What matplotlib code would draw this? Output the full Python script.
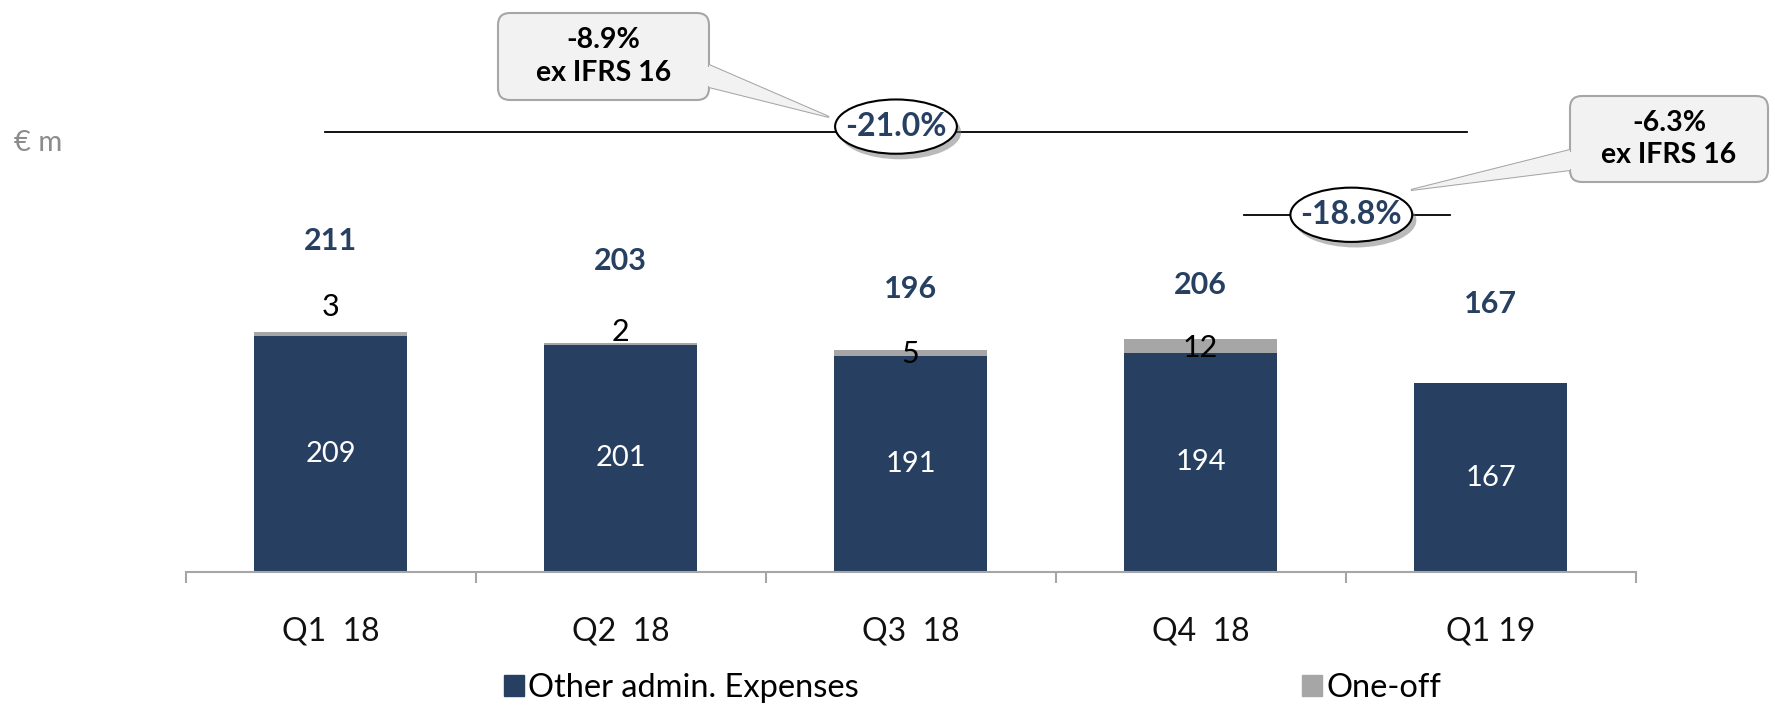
import matplotlib
matplotlib.use('Agg')
import matplotlib.pyplot as plt
from matplotlib.patches import Ellipse, FancyBboxPatch, Polygon, Patch
import matplotlib.patheffects as pe

plt.rcParams['font.family'] = ['Lato', 'DejaVu Sans']

# data
quarters = ['Q1  18', 'Q2  18', 'Q3  18', 'Q4  18', 'Q1 19']
other_admin = [209, 201, 191, 194, 167]
one_off = [3, 2, 5, 12, 0]
totals = [211, 203, 196, 206, 167]
growth_labels = ['-21.0%', '-18.8%']
callout_labels = ['-8.9%\nex IFRS 16', '-6.3%\nex IFRS 16']

# colours
NAVY = '#274062'
GREY = '#A6A6A6'
AXIS = '#A6A6A6'

# label heights (value units)
total_y = [293, 275, 250, 254, 237]
oneoff_y = [234, 212, 193, 198, 0]

W, H = 1775, 706
fig = plt.figure(figsize=(W / 100, H / 100), dpi=100)
ax = fig.add_axes([185.5 / W, 134 / H, 1450 / W, 572 / H])
ax.set_xlim(-0.5, 4.5)
ax.set_ylim(0, 506)

x = range(len(quarters))
ax.bar(x, other_admin, width=0.527, color=NAVY, zorder=2)
ax.bar(x, one_off, width=0.527, bottom=other_admin, color=GREY, zorder=2)

for i in x:
    ax.text(i, other_admin[i] / 2, str(other_admin[i]), color='white',
            fontsize=21, ha='center', va='center', zorder=3)
    if one_off[i]:
        ax.text(i, oneoff_y[i], str(one_off[i]), color='black',
                fontsize=22, ha='center', va='center', zorder=3)
    ax.text(i, total_y[i], str(totals[i]), color=NAVY, fontsize=22,
            fontweight='bold', ha='center', va='center', zorder=3)

# axis styling
for s in ['top', 'right', 'left']:
    ax.spines[s].set_visible(False)
ax.spines['bottom'].set_color(AXIS)
ax.spines['bottom'].set_linewidth(1.5)
ax.set_yticks([])
ax.set_xticks([i - 0.5 for i in range(len(quarters) + 1)])
ax.set_xticklabels([])
ax.tick_params(axis='x', which='major', length=8, width=1.5, color=AXIS)
ax.set_xticks(list(x), minor=True)
ax.set_xticklabels(quarters, minor=True, fontsize=23, color='#111111')
ax.tick_params(axis='x', which='minor', length=0, pad=32)

# growth brackets
shadow = [pe.SimplePatchShadow(offset=(3, -4), shadow_rgbFace='#777777', alpha=0.5), pe.Normal()]
brackets = [(-0.02, 3.92, 389, 1.95, 394), (3.15, 3.86, 316, 3.52, 316)]
for (x0, x1, yl, xe, ye), lab in zip(brackets, growth_labels):
    ax.plot([x0, x1], [yl, yl], color='black', lw=1.3, zorder=4, clip_on=False)
    e = Ellipse((xe, ye), 0.42, 48, facecolor='white', edgecolor='black',
                lw=1.5, zorder=5, clip_on=False)
    e.set_path_effects(shadow)
    ax.add_patch(e)
    ax.text(xe, ye, lab, color=NAVY, fontsize=23, fontweight='bold',
            ha='center', va='center', zorder=6)

ax.text(-0.5 - 172 / 290, (572 - 143) / 1.13, '€ m', color='#8C8C8C', fontsize=21,
        ha='left', va='center', clip_on=False)

# callouts, drawn in pixel coordinates
ov = fig.add_axes([0, 0, 1, 1], zorder=10)
ov.set_xlim(0, W)
ov.set_ylim(H, 0)
ov.axis('off')

callouts = [
    ((498, 13, 211, 87), [(709, 65), (709, 87), (829, 117)]),
    ((1570, 96, 198, 86), [(1570, 150), (1570, 170), (1411, 190)]),
]
for ((bx, by, bw, bh), tri), lab in zip(callouts, callout_labels):
    ov.add_patch(Polygon(tri, closed=True, facecolor='#F2F2F2', edgecolor=GREY, lw=1.5))
    ov.add_patch(FancyBboxPatch((bx, by), bw, bh, boxstyle='round,pad=0,rounding_size=12',
                                facecolor='#F2F2F2', edgecolor=GREY, lw=1.5))
    # hide the box edge where the pointer joins
    sgn = 1 if tri[2][0] > tri[0][0] else -1
    ov.add_patch(Polygon([tri[0], tri[1], tri[2]], closed=True, facecolor='#F2F2F2',
                         edgecolor='none'))
    ov.add_patch(Polygon([(tri[0][0] - 3 * sgn, tri[0][1] + 1.5), (tri[1][0] - 3 * sgn, tri[1][1] - 1.5),
                          (tri[1][0] + 3 * sgn, tri[1][1] - 1.5), (tri[0][0] + 3 * sgn, tri[0][1] + 1.5)],
                         closed=True, facecolor='#F2F2F2', edgecolor='none'))
    ov.text(bx + bw / 2, by + bh / 2, lab, fontsize=20.5, fontweight='bold', color='black',
            ha='center', va='center', linespacing=1.3)

# legend
leg1 = fig.legend(handles=[Patch(color=NAVY)], labels=['Other admin. Expenses'],
                  loc='center left', bbox_to_anchor=(504 / W, 18 / H), frameon=False,
                  fontsize=23.5, handlelength=0.6, handleheight=0.6, handletextpad=0.15,
                  borderpad=0, borderaxespad=0)
leg2 = fig.legend(handles=[Patch(color=GREY)], labels=['One-off'],
                  loc='center left', bbox_to_anchor=(1302 / W, 18 / H), frameon=False,
                  fontsize=23.5, handlelength=0.6, handleheight=0.6, handletextpad=0.15,
                  borderpad=0, borderaxespad=0)

fig.savefig('out.png', dpi=100)
